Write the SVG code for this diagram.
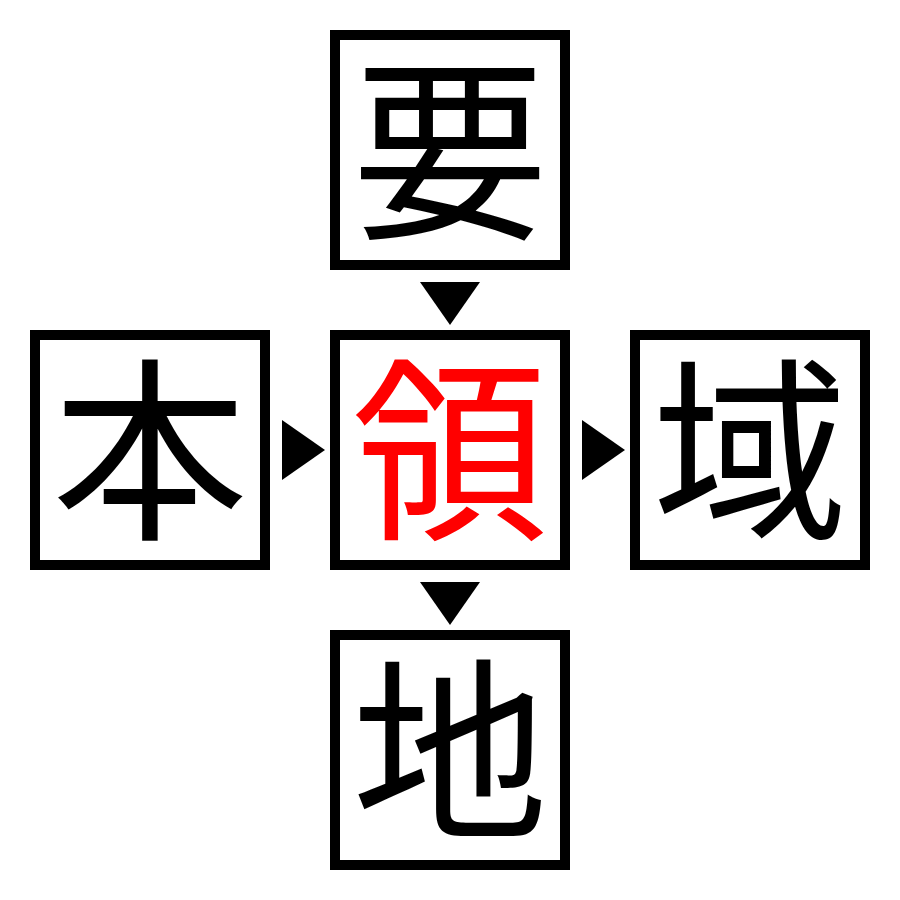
<svg xmlns="http://www.w3.org/2000/svg" width="900" height="900" viewBox="0 0 900 900">
<style>
.box{fill:#fff;stroke:#000;stroke-width:10}
.ch{font-family:"Noto Sans CJK JP","Noto Sans CJK SC",sans-serif;font-size:196px;text-anchor:middle;fill:#000}
.red{fill:#ff0000}
.arr{fill:#000}
</style>
<rect width="900" height="900" fill="#fff"/>
<g id="connectors">
<polygon class="arr" points="420,282 480,282 450,325"/>
<polygon class="arr" points="282,420 282,480 325,450"/>
<polygon class="arr" points="582,420 582,480 625,450"/>
<polygon class="arr" points="420,582 480,582 450,625"/>
</g>
<g id="node-top"><rect class="box" x="335" y="35" width="230" height="230"/><text class="ch" x="450" y="224">要</text></g>
<g id="node-left"><rect class="box" x="35" y="335" width="230" height="230"/><text class="ch" x="150" y="524">本</text></g>
<g id="node-center"><rect class="box" x="335" y="335" width="230" height="230"/><text class="ch red" x="450" y="524">領</text></g>
<g id="node-right"><rect class="box" x="635" y="335" width="230" height="230"/><text class="ch" x="750" y="524">域</text></g>
<g id="node-bottom"><rect class="box" x="335" y="635" width="230" height="230"/><text class="ch" x="450" y="824">地</text></g>
</svg>
